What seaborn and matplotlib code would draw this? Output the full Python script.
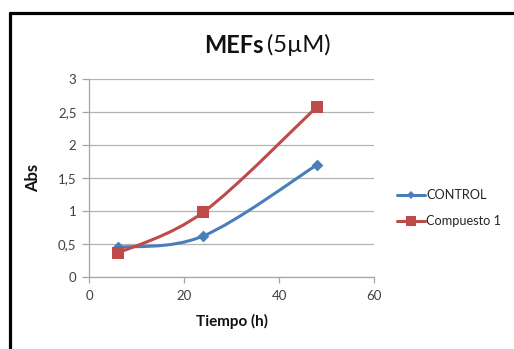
import numpy as np
import matplotlib
matplotlib.use("Agg")
import matplotlib.pyplot as plt
from matplotlib.path import Path
from matplotlib.patches import PathPatch
from matplotlib.lines import Line2D
import seaborn as sns
import pandas as pd

# ---- data ----
tiempo = [6, 24, 48]
control = [0.45, 0.62, 1.70]
compuesto1 = [0.36, 0.98, 2.58]
series_names = ["CONTROL", "Compuesto 1"]
x_ticks = [0, 20, 40, 60]
y_ticks = [0, 0.5, 1, 1.5, 2, 2.5, 3]
y_tick_labels = ["0", "0,5", "1", "1,5", "2", "2,5", "3"]

colors = {"CONTROL": "#4a7ebb", "Compuesto 1": "#be4b48"}
markers = {"CONTROL": "D", "Compuesto 1": "s"}
msize = {"CONTROL": 6, "Compuesto 1": 9}

df = pd.DataFrame({
    "Tiempo": tiempo * 2,
    "Abs": control + compuesto1,
    "Serie": [series_names[0]] * 3 + [series_names[1]] * 3,
})

sns.set_theme(style="white")
plt.rcParams["font.family"] = ["Lato", "DejaVu Sans"]

fig = plt.figure(figsize=(5.14, 3.49), dpi=100)
ax = fig.add_axes([0.1732, 0.2063, 0.5545, 0.5673])


def smooth_path(xs, ys):
    # Excel-style smoothed line: cubic Bezier segments through the points
    pts = np.column_stack([xs, ys]).astype(float)
    n = len(pts)
    verts = [pts[0]]
    codes = [Path.MOVETO]
    for i in range(n - 1):
        p_prev = pts[i - 1] if i > 0 else pts[i]
        p_next2 = pts[i + 2] if i + 2 < n else pts[i + 1]
        c1 = pts[i] + (pts[i + 1] - p_prev) / 6.0
        c2 = pts[i + 1] - (p_next2 - pts[i]) / 6.0
        verts += [c1, c2, pts[i + 1]]
        codes += [Path.CURVE4] * 3
    return Path(verts, codes)


for name in series_names:
    sub = df[df["Serie"] == name]
    patch = PathPatch(smooth_path(sub["Tiempo"].values, sub["Abs"].values),
                      facecolor="none", edgecolor=colors[name], lw=2.2,
                      zorder=3, capstyle="round", joinstyle="round")
    ax.add_patch(patch)

for name in series_names:
    sub = df[df["Serie"] == name]
    sns.scatterplot(data=sub, x="Tiempo", y="Abs", ax=ax, color=colors[name],
                    marker=markers[name], s=msize[name] ** 2, edgecolor=colors[name],
                    linewidth=0, zorder=4, legend=False)

ax.set_xlim(0, 60)
ax.set_ylim(0, 3)
ax.set_xticks(x_ticks)
ax.set_xticklabels([str(v) for v in x_ticks])
ax.set_yticks(y_ticks)
ax.set_yticklabels(y_tick_labels)
ax.yaxis.grid(True, color="#b3b3b3", lw=0.9)
ax.xaxis.grid(False)
for s in ["top", "right"]:
    ax.spines[s].set_visible(False)
for s in ["left", "bottom"]:
    ax.spines[s].set_color("#a6a6a6")
    ax.spines[s].set_linewidth(0.9)
ax.tick_params(axis="both", which="both", width=0.9, color="#a6a6a6",
               labelsize=9.5, labelcolor="#404040", direction="out")
ax.tick_params(axis="x", bottom=True, length=4, pad=5)
ax.tick_params(axis="y", left=True, length=5, pad=4)

ax.set_xlabel("Tiempo (h)", fontsize=11, fontweight="bold", color="#111111", labelpad=9)
ax.set_ylabel("Abs", fontsize=12, fontweight="bold", color="#111111", labelpad=12)

# title: bold part + regular part
fig.text(0.5137, 0.870, "MEFs", fontsize=17, fontweight="bold", ha="right",
         va="center", color="#111111")
fig.text(0.5195, 0.870, "(5µM)", fontsize=17, ha="left", va="center",
         color="#111111")

handles = [Line2D([0], [0], color=colors[n], lw=2.2, marker=markers[n],
                  markersize=msize[n] * 0.75, markeredgewidth=0) for n in series_names]
fig.legend(handles, series_names, loc="upper left", bbox_to_anchor=(0.765, 0.469),
           frameon=False, fontsize=9.2, handlelength=2.2, handletextpad=0.1,
           labelspacing=1.1, borderaxespad=0, borderpad=0.3)

# chart frame (partially visible)
fig.add_artist(Line2D([0.0195, 0.0195], [0, 0.963], color="black", lw=2.3,
                      transform=fig.transFigure))
fig.add_artist(Line2D([0.0195, 1.0], [0.963, 0.963], color="black", lw=2.3,
                      transform=fig.transFigure))

fig.savefig("out.png", dpi=100)
